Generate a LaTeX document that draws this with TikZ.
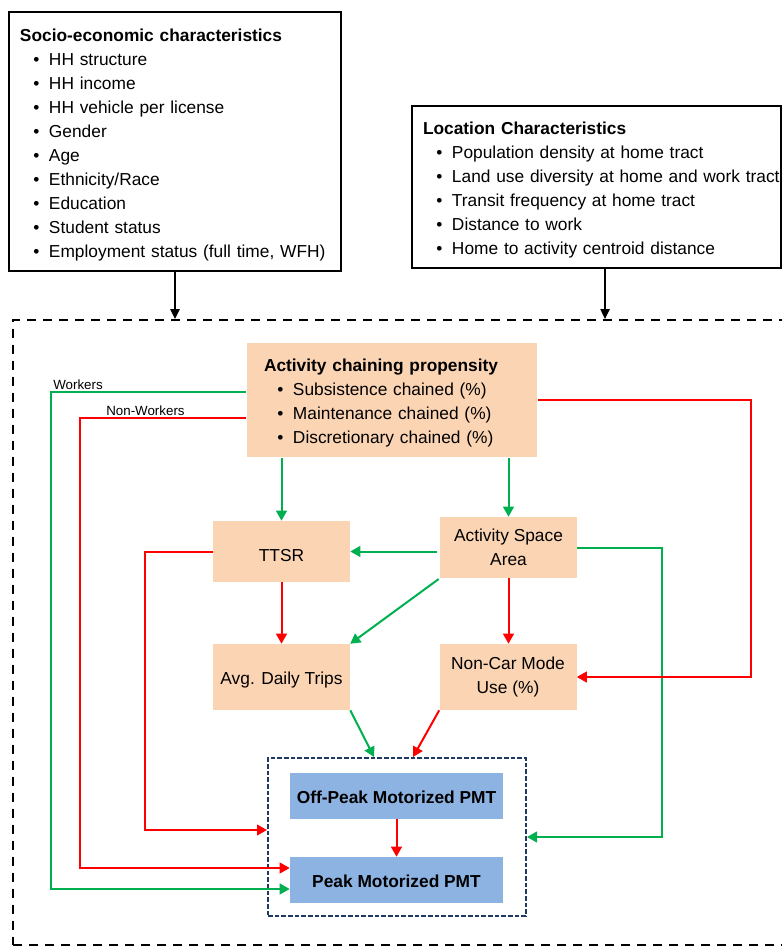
\documentclass[tikz,border=0pt]{standalone}
\usepackage{fontspec}
\setmainfont{Liberation Sans}
\usetikzlibrary{arrows.meta}
\definecolor{peach}{HTML}{FBD4B4}
\definecolor{pmtblue}{HTML}{8DB3E2}
\definecolor{linkgreen}{HTML}{00B050}
\definecolor{linkred}{HTML}{FF0000}
\definecolor{navy}{HTML}{1F3864}
\newcommand{\itm}[1]{\mbox{\makebox[21.75pt][l]{\hspace*{10pt}\textbullet}#1}}

\begin{document}
\begin{tikzpicture}[x=0.75pt,y=-0.75pt,
  every node/.style={font=\fontsize{13}{18}\selectfont},
  charbox/.style={draw, line width=1.5pt, align=left, inner xsep=8.25pt, inner ysep=0pt,
    execute at begin node={\rule{0pt}{14.5pt}}},
  factor/.style={fill=peach, align=center, inner sep=0pt, minimum width=102.75pt, minimum height=45.75pt,
    execute at begin node={\rule{0pt}{14.5pt}}},
  outcome/.style={fill=pmtblue, font=\fontsize{13}{18}\selectfont\bfseries, inner sep=0pt, minimum width=159.75pt, minimum height=34.5pt,
    execute at begin node={\rule{0pt}{12pt}}},
  pmtframe/.style={draw=navy, line width=1.5pt, dash pattern=on 3.5pt off 1.5pt, minimum width=193.5pt, minimum height=118.5pt},
  modelframe/.style={draw, line width=1.5pt, dash pattern=on 6.75pt off 5.25pt, minimum width=590.25pt, minimum height=469.1pt},
  lbl/.style={font=\fontsize{10}{12}\selectfont},
  blk/.style={line width=1.1pt, -{Triangle[length=7.5pt,width=7pt]}},
  grn/.style={draw=linkgreen, line width=1.5pt, -{Triangle[length=7.5pt,width=8pt]}},
  rd/.style={draw=linkred, line width=1.5pt, -{Triangle[length=7.5pt,width=8pt]}}]
\useasboundingbox (0,0) rectangle (782,947);

% input characteristics
\node[charbox, text width=232.5pt, minimum height=194.25pt] (socio) at (175,141.5) {\textbf{Socio-economic characteristics}\\
  \itm{HH structure}\\ \itm{HH income}\\ \itm{HH vehicle per license}\\ \itm{Gender}\\ \itm{Age}\\
  \itm{Ethnicity/Race}\\ \itm{Education}\\ \itm{Student status}\\ \itm{Employment status (full time, WFH)}};
\node[charbox, text width=260.25pt, minimum height=121.5pt] (loc) at (596.5,187) {\textbf{Location Characteristics}\\
  \itm{Population density at home tract}\\ \itm{Land use diversity at home and work tract}\\
  \itm{Transit frequency at home tract}\\ \itm{Distance to work}\\ \itm{Home to activity centroid distance}};

% mediators
\node[charbox, draw=none, fill=peach, inner xsep=12.75pt, text width=192pt, minimum height=85.5pt] (act) at (392,400) {\textbf{Activity chaining propensity}\\
  \itm{Subsistence chained (\%)}\\ \itm{Maintenance chained (\%)}\\ \itm{Discretionary chained (\%)}};
\node[factor] (ttsr) at (281.5,551.5) {TTSR};
\node[factor] (asa) at (508.5,547.5) {Activity Space\\Area};
\node[factor, minimum height=49.5pt] (avg) at (281.5,677) {Avg. Daily Trips};
\node[factor, minimum height=49.5pt] (noncar) at (508,677) {Non-Car Mode\\Use (\%)};

% outcomes
\node[outcome] (offpeak) at (396.5,796) {Off-Peak Motorized PMT};
\node[outcome] (peak) at (396.5,880) {Peak Motorized PMT};
\node[pmtframe] (pmt) at (397,837) {};
\node[modelframe] (model) at (406.5,632.75) {};

% inputs to model
\draw[blk] (socio.south) -- (socio.south |- model.north);
\draw[blk] ([xshift=6.4pt]loc.south) -- ([xshift=6.4pt]loc.south |- model.north);

% positive links
\draw[grn] (act.south -| ttsr.north) -- (ttsr.north);
\draw[grn] (act.south -| asa.north) -- (asa.north);
\draw[grn, shorten <=2pt] (asa.west |- ttsr.east) -- (ttsr.east);
\draw[grn, shorten <=1pt] (asa.south west) -- (avg.north east);
\draw[grn] (asa.east) -- ++(85,0) |- (pmt.east);
\draw[grn] (avg.south east) -- ([xshift=-17.25pt]pmt.north);
\draw[grn] ([yshift=6pt]act.west) -- ++(-195,0) node[lbl, above right, inner sep=1pt] {Workers} |- ([yshift=-6.75pt]peak.west);

% negative links
\draw[rd] (ttsr.south) -- (avg.north);
\draw[rd] (asa.south) -- (asa.south |- noncar.north);
\draw[rd] (act.east) -- ++(213,0) |- (noncar.east);
\draw[rd] (noncar.south west) -- ([xshift=12pt]pmt.north);
\draw[rd] (ttsr.west) -- ++(-68,0) |- ([yshift=5.25pt]pmt.west);
\draw[rd] ([yshift=-13.5pt]act.west) -- ++(-166,0) node[lbl, above right, xshift=18pt, inner sep=1pt] {Non-Workers} |- ([yshift=9pt]peak.west);
\draw[rd] (offpeak) -- (peak);
\end{tikzpicture}
\end{document}
